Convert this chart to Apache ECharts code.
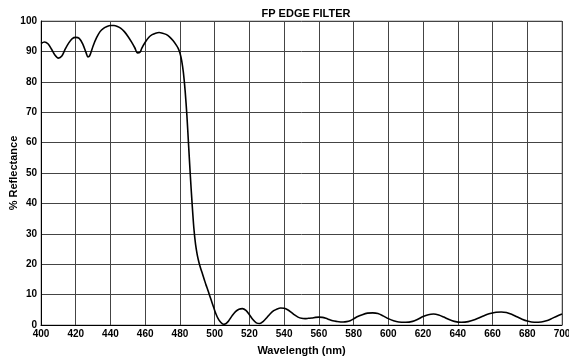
<!DOCTYPE html>
<html><head><meta charset="utf-8">
<script src="https://cdn.jsdelivr.net/npm/echarts@6/dist/echarts.min.js"></script>
<style>html,body{margin:0;padding:0;background:#fff}#c{width:569px;height:358px}</style>
</head><body><div id="c"></div>
<script>
const wavelengths = [400,402,404,406,408,410,412,414,416,418,420,422,424,426,427,428,430,432,434,436,438,440,442,444,446,448,450,452,454,455.5,457,458,460,462,464,466,468,470,472,474,476,478,479,480,481,482,483,484,485,486,487,488,489,490,491,492,493,494,495,496,497,498,499,500,501,502,503,504,505,506,507,508,510,512,514,516,518,520,522,524,526,528,530,532,534,536,538,540,542,544,546,548,550,552,554,556,558,560,562,564,566,568,570,574,576,578,580,582,585,588,591,594,597,600,603,606,610,614,617,620,623,626,629,632,635,638,642,646,650,654,658,662,665,668,671,674,677,680,684,688,691,694,697,700];
const reflectance = [92.6,93.1,92.5,90.8,88.8,87.8,88.5,90.8,92.8,94.2,94.6,94.3,92.5,89.5,88.2,88.5,91.8,94.5,96.5,97.6,98.2,98.5,98.5,98.2,97.6,96.5,95,93.2,91.2,89.5,89.7,91,93,94.6,95.5,96,96.2,96,95.6,94.8,93.6,92,91,89.5,87,83,77,69,59,49,40,32,26.5,23,20.5,18.5,16.8,15,13.2,11.6,9.9,8.2,6.5,4.8,3.3,2.1,1.2,0.6,0.25,0.3,0.7,1.3,3,4.4,5.2,5.4,4.8,3.4,1.8,0.7,0.5,1.2,2.4,3.7,4.7,5.3,5.6,5.5,5,4.2,3.3,2.6,2.2,2.1,2.2,2.3,2.5,2.6,2.5,2.2,1.8,1.4,1.2,1.0,1.1,1.4,2,2.7,3.4,3.9,4.0,3.8,3.0,2.1,1.4,1.0,0.9,1.2,1.9,2.8,3.4,3.6,3.3,2.6,1.8,1.2,0.9,1.1,1.8,2.8,3.7,4.2,4.3,4.1,3.5,2.7,1.9,1.3,0.9,1.0,1.4,2.1,2.9,3.6];
const xTicks = [400,420,440,460,480,500,520,540,560,580,600,620,640,660,680,700];
const yTicks = [0,10,20,30,40,50,60,70,80,90,100];

const data = wavelengths.map((w,i)=>[w,reflectance[i]]);
const font = 'Liberation Sans, Arial, sans-serif';
const chart = echarts.init(document.getElementById('c'));
chart.setOption({
  animation:false,
  title:{text:'FP EDGE FILTER',left:301,top:3,textAlign:'center',textStyle:{fontFamily:font,fontSize:11,fontWeight:'bold',color:'#000'}},
  grid:{left:41,right:7,top:21,bottom:33,show:true,borderColor:'#999',borderWidth:1,containLabel:false,outerBoundsMode:'none'},
  xAxis:{type:'value',min:400,max:700,interval:20,
    name:'Wavelength (nm)',nameLocation:'middle',nameGap:20,nameMoveOverlap:false,
    nameTextStyle:{fontFamily:font,fontSize:11,fontWeight:'bold',color:'#000'},
    axisLine:{show:true,lineStyle:{color:'#000',width:1}},axisTick:{show:false},
    axisLabel:{fontFamily:font,fontSize:10,fontWeight:'bold',color:'#000',margin:4,
      formatter:v=>xTicks.includes(v)?String(v):''},
    splitLine:{show:true,lineStyle:{color:'#444',width:1}}},
  yAxis:{type:'value',min:0,max:100,interval:10,
    name:'% Reflectance',nameLocation:'middle',nameGap:22,nameMoveOverlap:false,
    nameTextStyle:{fontFamily:font,fontSize:11,fontWeight:'bold',color:'#000'},
    axisLine:{show:true,lineStyle:{color:'#000',width:1}},axisTick:{show:false},
    axisLabel:{fontFamily:font,fontSize:10,fontWeight:'bold',color:'#000',margin:4,
      formatter:v=>yTicks.includes(v)?String(v):''},
    splitLine:{show:true,lineStyle:{color:'#444',width:1}}},
  series:[{type:'line',data:data,smooth:0.3,showSymbol:false,
    lineStyle:{color:'#000',width:1.6}}]
});
</script></body></html>
